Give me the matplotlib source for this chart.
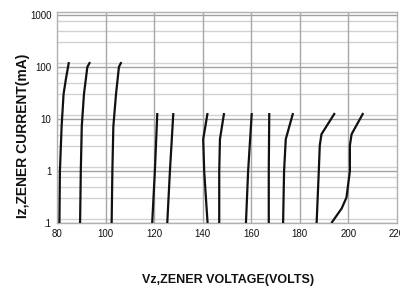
import numpy as np
import matplotlib
matplotlib.use("Agg")
import matplotlib.pyplot as plt
from matplotlib.ticker import FixedLocator, NullLocator

plt.rcParams['font.family'] = ['Liberation Sans', 'DejaVu Sans']

# zener curves: (current mA, voltage V), bottom to top
curves = [
    ([0.1, 1, 7.2, 30, 60, 124], [81.0, 81.2, 81.9, 82.7, 83.7, 84.9]),
    ([0.1, 1, 7.2, 30, 100, 124], [89.5, 89.8, 90.2, 91.1, 92.5, 93.6]),
    ([0.1, 1, 7.2, 30, 100, 124], [102.5, 102.8, 103.2, 104.3, 105.5, 106.5]),
    ([0.1, 1, 13], [119.2, 120.3, 121.3]),
    ([0.1, 1, 13], [125.4, 126.5, 127.9]),
    ([0.1, 1, 4.1, 13], [142.0, 140.6, 140.2, 142.0]),
    ([0.1, 1, 4.1, 13], [146.8, 146.8, 147.1, 148.8]),
    ([0.1, 1, 13], [157.8, 158.7, 160.2]),
    ([0.1, 1, 13], [167.2, 167.2, 167.4]),
    ([0.1, 1, 4.1, 13], [173.1, 173.5, 174.2, 177.2]),
    ([0.1, 1, 3.1, 5.1, 13], [186.9, 187.8, 188.2, 188.9, 194.4]),
    ([0.1, 0.19, 0.31, 1, 3.1, 5.1, 13], [193.0, 197.2, 199.2, 200.6, 200.6, 201.3, 206.1]),
]

x_ticks = [80, 100, 120, 140, 160, 180, 200, 220]
y_ticks = [0.1, 1, 10, 100, 1000]
y_labels = ['.1', '1', '10', '100', '1000']
minor_mult = [1.2, 3, 5, 7.5]

fig = plt.figure(figsize=(4, 2.9), dpi=100)
ax = fig.add_axes([0.1425, 0.231, 0.85, 0.7286])
ax.set_yscale('log')
ax.set_xlim(80, 220)
ax.set_ylim(0.1, 1154)

# background grid like the scanned sheet
for d in y_ticks[:-1]:
    for m in minor_mult:
        ax.axhline(d * m, color='#d2d2d2', lw=1.0, zorder=1)
for d in y_ticks:
    ax.axhline(d, color='#a0a0a0', lw=1.0, zorder=1)
for v in x_ticks[1:-1]:
    ax.axvline(v, color='#a8a8a8', lw=1.0, zorder=1)

for cur, volt in curves:
    ax.plot(volt, cur, color='#111111', lw=1.6, solid_capstyle='butt',
            solid_joinstyle='round', zorder=3)

ax.xaxis.set_major_locator(FixedLocator(x_ticks))
ax.yaxis.set_major_locator(FixedLocator(y_ticks))
ax.yaxis.set_minor_locator(NullLocator())
ax.set_yticklabels(y_labels)
ax.tick_params(length=0, labelsize=7, pad=4, labelcolor='#111111')
for s in ax.spines.values():
    s.set_color('#b0b0b0')
    s.set_linewidth(1.0)

fig.text(0.57, 0.035, 'Vz,ZENER VOLTAGE(VOLTS)', ha='center', va='center',
         fontsize=9, fontweight='bold', color='#111111')
fig.text(0.057, 0.53, 'Iz,ZENER CURRENT(mA)', ha='center', va='center',
         rotation=90, fontsize=10, fontweight='bold', color='#111111')

fig.savefig('out.png', dpi=100)
